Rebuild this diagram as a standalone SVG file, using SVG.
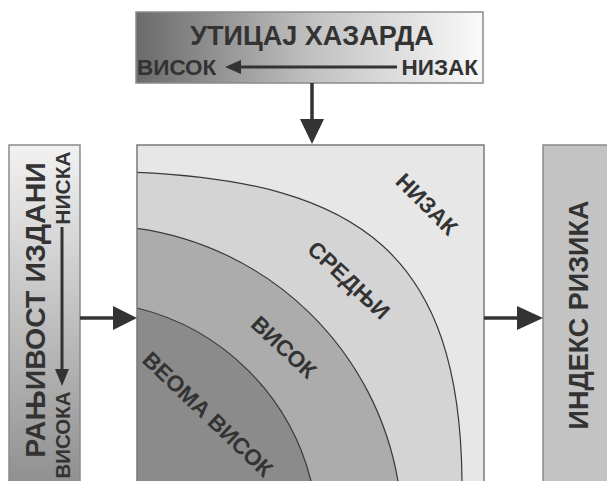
<svg xmlns="http://www.w3.org/2000/svg" width="607" height="481" viewBox="0 0 607 481">
<defs>
<linearGradient id="gTop" x1="0" y1="0" x2="1" y2="0">
<stop offset="0" stop-color="#6a6a6a"/>
<stop offset="0.5" stop-color="#c0c0c0"/>
<stop offset="1" stop-color="#fafafa"/>
</linearGradient>
<linearGradient id="gLeft" x1="0" y1="0" x2="0" y2="1">
<stop offset="0" stop-color="#f2f2f2"/>
<stop offset="1" stop-color="#8e8e8e"/>
</linearGradient>
<clipPath id="sq"><rect x="137" y="145" width="347" height="345"/></clipPath>
</defs>
<style>
text{font-family:"Liberation Sans",Arial,sans-serif;font-weight:bold;fill:#333}
.box{stroke:#8a8a8a;stroke-width:1.5}
.curve{fill:none;stroke:#3a3a3a;stroke-width:1.2}
.conn{stroke:#333;stroke-width:3.5;fill:none}
.head{fill:#333}
.zl{font-size:22.5px;text-anchor:middle}
</style>
<rect width="607" height="481" fill="#ffffff"/>

<g id="hazard">
<rect class="box" x="136" y="12" width="347" height="71" fill="url(#gTop)"/>
<text x="312" y="45" font-size="27" text-anchor="middle">УТИЦАЈ ХАЗАРДА</text>
<text x="137" y="75" font-size="22.5">ВИСОК</text>
<text x="478" y="75" font-size="22.5" text-anchor="end">НИЗАК</text>
<line x1="397" y1="67" x2="238" y2="67" stroke="#333" stroke-width="3"/>
<polygon class="head" points="225,67 241,60 241,74"/>
</g>

<g id="vulnerability">
<rect class="box" x="9" y="145" width="71" height="345" fill="url(#gLeft)"/>
<text transform="translate(45,310) rotate(-90)" font-size="28.5" text-anchor="middle">РАЊИВОСТ ИЗДАНИ</text>
<text transform="translate(70,188) rotate(-90)" font-size="21" text-anchor="middle">НИСКА</text>
<text transform="translate(70,435) rotate(-90)" font-size="20.5" text-anchor="middle">ВИСОКА</text>
<line x1="62" y1="227" x2="62" y2="372" stroke="#333" stroke-width="3"/>
<polygon class="head" points="62,386 55,369 69,369"/>
</g>

<g id="matrix">
<g clip-path="url(#sq)">
<rect x="137" y="145" width="347" height="345" fill="#e7e7e7"/>
<path d="M137,172.3 C360,182 460,255 462,481 L462,490 L137,490 Z" fill="#d4d4d4"/>
<path d="M137,228.3 A308.2,308.2 0 0 1 398,481 L398,490 L137,490 Z" fill="#acacac"/>
<path d="M137,308 A237.7,237.7 0 0 1 311,481 L311,490 L137,490 Z" fill="#8b8b8b"/>
<path class="curve" d="M137,172.3 C360,182 460,255 462,481 L462.3,490"/>
<path class="curve" d="M137,228.3 A308.2,308.2 0 0 1 398,481 L400,490"/>
<path class="curve" d="M137,308 A237.7,237.7 0 0 1 311,481 L313,490"/>
</g>
<rect x="137" y="145" width="347" height="345" fill="none" stroke="#7a7a7a" stroke-width="1.5"/>
<text class="zl" transform="translate(427,204) rotate(45)" dy="0.36em">НИЗАК</text>
<text class="zl" transform="translate(349,280) rotate(43)" dy="0.36em">СРЕДЊИ</text>
<text class="zl" transform="translate(284,347) rotate(43)" dy="0.36em">ВИСОК</text>
<text class="zl" transform="translate(208,414) rotate(43.5)" dy="0.36em" font-size="21.5">ВЕОМА ВИСОК</text>
</g>

<g id="risk">
<rect class="box" x="543" y="145" width="80" height="345" fill="#c3c3c3"/>
<text transform="translate(588,315) rotate(-90)" font-size="27" text-anchor="middle">ИНДЕКС РИЗИКА</text>
</g>

<g id="connectors">
<line class="conn" x1="312" y1="83" x2="312" y2="122"/>
<polygon class="head" points="312,144 300,119 324,119"/>
<line class="conn" x1="80" y1="318" x2="116" y2="318"/>
<polygon class="head" points="137,318 113,306 113,330"/>
<line class="conn" x1="484" y1="318" x2="520" y2="318"/>
<polygon class="head" points="543,318 517,306 517,330"/>
</g>
</svg>
